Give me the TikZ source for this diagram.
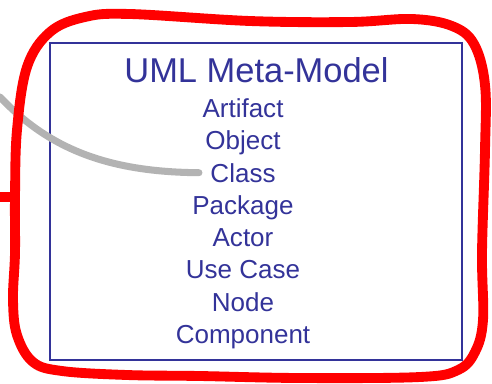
\documentclass[tikz,border=0pt]{standalone}
\usepackage{fontspec}
\setmainfont{Liberation Sans}
\definecolor{metablue}{RGB}{51,51,153}
\definecolor{linkgray}{RGB}{179,179,179}
\tikzset{
  metaitem/.style={anchor=base, text=metablue, inner xsep=8pt, inner ysep=0pt, font=\fontsize{18.5}{22}\selectfont},
  metatitle/.style={anchor=base, text=metablue, inner sep=0pt, font=\fontsize{24.5}{29}\selectfont},
  metabox/.style={draw=metablue, line width=1pt},
  outline/.style={draw=red, line width=7pt},
  link/.style={draw=linkgray, line width=5pt, line cap=round}
}
\begin{document}
\begin{tikzpicture}[x=0.025cm, y=-0.025cm]
\useasboundingbox (0,0) rectangle (492,383);
\draw[metabox] (50,43) rectangle (462,360);
\node[metatitle] (title) at (256.5,82) {UML Meta-Model};
\node[metaitem] (artifact) at (243,117) {Artifact};
\node[metaitem] (object) at (243,149.5) {Object};
\node[metaitem] (class) at (243,182) {Class};
\node[metaitem] (package) at (243,214.5) {Package};
\node[metaitem] (actor) at (243,246.5) {Actor};
\node[metaitem] (usecase) at (243,278.5) {Use Case};
\node[metaitem] (umlnode) at (243,311) {Node};
\node[metaitem] (component) at (243,343) {Component};
\coordinate (grayend) at (0,97);
\draw[link] (grayend) .. controls (50,150) and (110,172) .. (class.west);
\draw[outline] plot[smooth cycle, tension=0.6] coordinates {(15,197) (17,130) (27,67) (50,32) (85,17) (130,14) (250,21) (350,22) (412,19) (452,26) (474,44) (485,85) (485,150) (482,253) (483,320) (475,352) (458,370) (420,377) (300,378) (200,376) (127,375) (62,371) (33,362) (17,335) (13,300) (15,253)};
\coordinate (redend) at (0,197);
\coordinate (redjoin) at (15,197);
\draw[outline] (redend) -- (redjoin);
\end{tikzpicture}
\end{document}
